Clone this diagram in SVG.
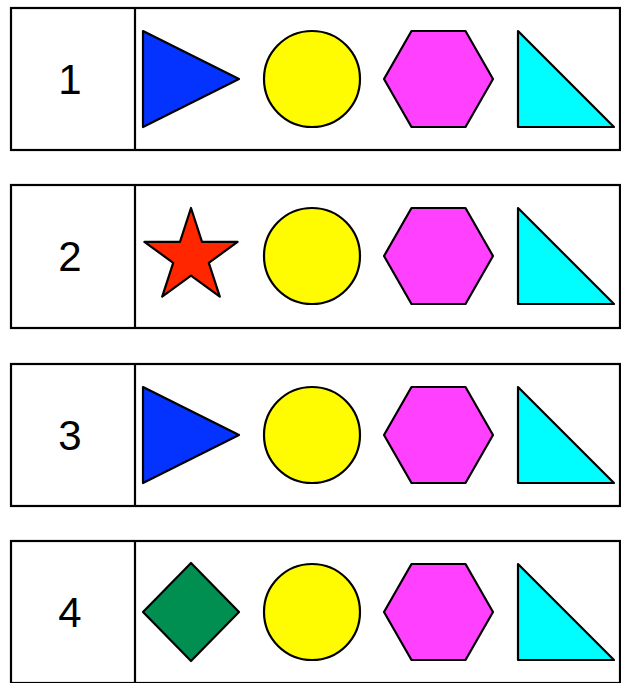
<svg xmlns="http://www.w3.org/2000/svg" width="621" height="683" viewBox="0 0 621 683">
<style>
.box{fill:#fff;stroke:#000;stroke-width:2.2}
.sh{stroke:#000;stroke-width:2.2;stroke-linejoin:round}
.lbl{font-family:"Liberation Sans",Arial,sans-serif;font-size:42px;text-anchor:middle;fill:#000}
.blue{fill:#0433FF}.yel{fill:#FFFB00}.mag{fill:#FF40FF}.cyan{fill:#00FDFF}.red{fill:#FF2600}.grn{fill:#008F51}
</style>
<defs>
<g id="common">
<circle class="sh yel" cx="312" cy="79" r="48"/>
<polygon class="sh mag" points="384,79 411.5,31 465.5,31 493,79 465.5,127 411.5,127"/>
<polygon class="sh cyan" points="518,31 614,127 518,127"/>
</g>
</defs>
<g id="row1">
<rect class="box" x="11" y="8" width="609" height="142"/>
<line class="box" x1="135" y1="8" x2="135" y2="150"/>
<text class="lbl" x="70" y="94">1</text>
<polygon class="sh blue" points="143,31 239,79 143,127"/>
<use href="#common"/>
</g>
<g id="row2" transform="translate(0,177)">
<rect class="box" x="11" y="8" width="609" height="143"/>
<line class="box" x1="135" y1="8" x2="135" y2="151"/>
<text class="lbl" x="70" y="94">2</text>
<polygon class="sh red" points="191,31 202,64.9 237.6,64.9 208.8,85.8 219.8,119.6 191,98.7 162.2,119.6 173.2,85.8 144.4,64.9 180,64.9"/>
<use href="#common"/>
</g>
<g id="row3" transform="translate(0,356)">
<rect class="box" x="11" y="8" width="609" height="142"/>
<line class="box" x1="135" y1="8" x2="135" y2="150"/>
<text class="lbl" x="70" y="94">3</text>
<polygon class="sh blue" points="143,31 239,79 143,127"/>
<use href="#common"/>
</g>
<g id="row4" transform="translate(0,533)">
<rect class="box" x="11" y="8" width="609" height="142"/>
<line class="box" x1="135" y1="8" x2="135" y2="150"/>
<text class="lbl" x="70" y="94">4</text>
<polygon class="sh grn" points="191,30 239,79 191,128 143,79"/>
<use href="#common"/>
</g>
</svg>
